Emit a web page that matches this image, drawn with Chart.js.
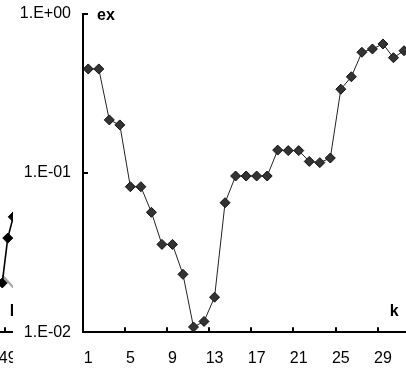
<!DOCTYPE html>
<html><head><meta charset="utf-8">
<script src="https://cdn.jsdelivr.net/npm/chart.js@4.4.1/dist/chart.umd.min.js"></script>
<style>
html,body{margin:0;padding:0;width:406px;height:374px;overflow:hidden;background:#fff;position:relative}
#frag{position:absolute;left:-173px;top:0}
#main{position:absolute;left:13px;top:0;background:#fff}
</style></head><body>
<canvas id="frag" width="210" height="374"></canvas>
<canvas id="main" width="400" height="374"></canvas>
<script>
// Main chart data
const categories = ['1','2','3','4','5','6','7','8','9','10','11','12','13','14','15','16','17','18','19','20','21','22','23','24','25','26','27','28','29','30','31'];
const exValues = [0.449,0.449,0.215,0.200,0.0819,0.0819,0.0566,0.0356,0.0356,0.0231,0.0108,0.0117,0.0166,0.0650,0.0956,0.0956,0.0956,0.0956,0.139,0.138,0.138,0.118,0.116,0.124,0.335,0.401,0.571,0.599,0.644,0.528,0.584];
const xTickLabels = ['1','5','9','13','17','21','25','29'];
const yTickValues = [0.01, 0.1, 1];
const yTickLabels = ['1.E-02','1.E-01','1.E+00'];
const yTitle = 'ex';
const xTitle = 'k';

// Neighbouring chart fragment (cut off at the left edge)
const fragCategories = ['44','45','46','47','48','49','50','51','52'];
const fragBlack = [null,null,null,null,0.0204,0.039,0.053,null,null];
const fragGray = [null,null,null,null,0.0228,0.0209,0.0191,null,null];
const fragTickLabels = ['49'];
const fragXTitle = 'l';

const FONT = "'Liberation Sans', Arial, sans-serif";

function axisDecor(tickLabels, yVals, xT, yT){
  return { id:'axisDecor', afterDraw(chart){
    const {ctx, chartArea:a} = chart;
    const x = chart.scales.x, y = chart.scales.y;
    ctx.save();
    ctx.strokeStyle = '#000'; ctx.lineWidth = 2;
    const labels = chart.data.labels;
    ctx.beginPath();
    tickLabels.forEach(t => {
      const i = labels.indexOf(t);
      if (i > 0) {
        const px = Math.round((x.getPixelForValue(i-1) + x.getPixelForValue(i)) / 2);
        ctx.moveTo(px, a.bottom); ctx.lineTo(px, a.bottom - 5);
      }
    });
    if (yVals) yVals.forEach(v => {
      const py = Math.round(y.getPixelForValue(v));
      ctx.moveTo(a.left, py); ctx.lineTo(a.left + 5, py);
    });
    ctx.stroke();
    ctx.fillStyle = '#000'; ctx.font = 'bold 16px ' + FONT; ctx.textBaseline = 'middle';
    if (yT) { ctx.textAlign = 'left'; ctx.fillText(yT, a.left + 14, a.top + 2); }
    if (xT) { ctx.textAlign = 'center'; ctx.fillText(xT, a.right - 15, a.bottom - 20.5); }
    ctx.restore();
  }};
}

function noPad(s){ s.paddingTop = 0; s.paddingBottom = 0; s.paddingLeft = 0; s.paddingRight = 0; }

function xAxis(shown){
  return {
    type:'category', offset:true,
    grid:{display:false, drawTicks:false},
    border:{display:true, color:'#000', width:2},
    afterFit(s){ s.height = 41.7; noPad(s); },
    ticks:{autoSkip:false, maxRotation:0, minRotation:0, padding:16.5, color:'#000',
      font:{family:FONT, size:16},
      callback(v){ const l = this.getLabelForValue(v); return shown.includes(l) ? l : ''; }}
  };
}

new Chart(document.getElementById('frag'), {
  type:'line',
  data:{labels:fragCategories, datasets:[
    {data:fragBlack, borderColor:'#000', borderWidth:1.6, pointStyle:'rectRot', pointRadius:5,
     pointBackgroundColor:'#000', pointBorderColor:'#000', pointBorderWidth:1, tension:0, spanGaps:false},
    {data:fragGray, borderColor:'#a6a6a6', borderWidth:2, pointRadius:0, tension:0}
  ]},
  options:{responsive:false, animation:false, devicePixelRatio:1,
    layout:{autoPadding:false, padding:{left:150.5, right:10, top:13.5, bottom:0}},
    plugins:{legend:{display:false}, tooltip:{enabled:false}},
    scales:{
      x:xAxis(fragTickLabels),
      y:{type:'logarithmic', min:0.01, max:1, display:false}
    }},
  plugins:[axisDecor(fragTickLabels, null, fragXTitle, null)]
});

new Chart(document.getElementById('main'), {
  type:'line',
  data:{labels:categories, datasets:[{data:exValues, borderColor:'#222', borderWidth:1,
    pointStyle:'rectRot', pointRadius:5, pointBackgroundColor:'#333', pointBorderColor:'#111',
    pointBorderWidth:1, tension:0, fill:false}]},
  options:{responsive:false, animation:false, devicePixelRatio:1,
    layout:{autoPadding:false, padding:{left:0, right:3.75, top:13.5, bottom:0}},
    plugins:{legend:{display:false}, tooltip:{enabled:false}},
    scales:{
      x:xAxis(xTickLabels),
      y:{type:'logarithmic', min:0.01, max:1,
        grid:{display:false, drawTicks:false},
        border:{display:true, color:'#000', width:2},
        afterBuildTicks(s){ s.ticks = yTickValues.map(v => ({value:v})); },
        afterFit(s){ s.width = 70; noPad(s); },
        ticks:{padding:12, color:'#000', font:{family:FONT, size:16},
          callback(v){ const i = yTickValues.indexOf(v); return i >= 0 ? yTickLabels[i] : ''; }}
      }
    }},
  plugins:[axisDecor(xTickLabels, yTickValues, xTitle, yTitle)]
});
</script>
</body></html>
